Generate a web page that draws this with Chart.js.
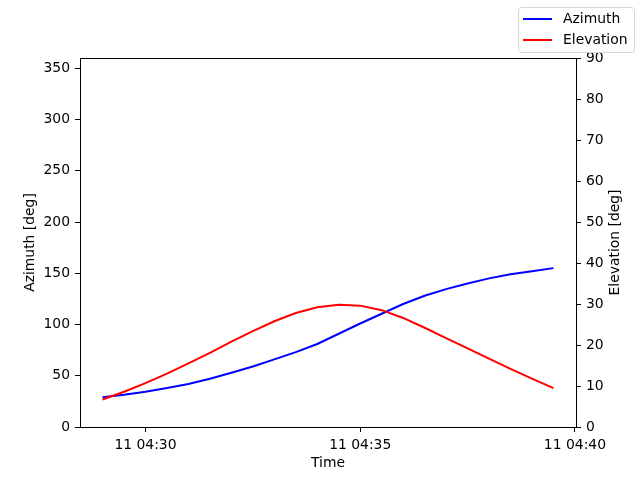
<!DOCTYPE html>
<html>
<head>
<meta charset="utf-8">
<script src="https://cdn.jsdelivr.net/npm/chart.js@4/dist/chart.umd.min.js"></script>
<style>
  html, body { margin: 0; padding: 0; background: #fff; }
  #wrap { width: 640px; height: 480px; }
</style>
</head>
<body>
<div id="wrap"><canvas id="passChart" width="640" height="480"></canvas></div>
<script>
// sample times (day 11), every 30 s
const times = ['04:29:00', '04:29:30', '04:30:00', '04:30:30', '04:31:00', '04:31:30',
    '04:32:00', '04:32:30', '04:33:00', '04:33:30', '04:34:00', '04:34:30',
    '04:35:00', '04:35:30', '04:36:00', '04:36:30', '04:37:00', '04:37:30',
    '04:38:00', '04:38:30', '04:39:00', '04:39:30'];
const azimuth = [29, 31.5, 34.5, 38, 42, 47, 53, 59, 66, 73, 81, 91,
    101, 110.5, 120, 128, 134.5, 140, 145, 149, 152, 155];
const elevation = [6.7, 8.6, 10.7, 13.0, 15.5, 18.1, 20.8, 23.4, 25.8, 27.8, 29.2, 29.8,
    29.6, 28.5, 26.6, 24.2, 21.7, 19.2, 16.7, 14.2, 11.8, 9.5];

const timeTicks = ['04:30:00', '04:35:00', '04:40:00'];
const timeTickLabels = ['11 04:30', '11 04:35', '11 04:40'];
const azTicks = [0, 50, 100, 150, 200, 250, 300, 350];
const elTicks = [0, 10, 20, 30, 40, 50, 60, 70, 80, 90];

// minutes after 04:00
function toMin(s) {
    const p = s.split(':').map(Number);
    return (p[0] - 4) * 60 + p[1] + p[2] / 60;
}

const xs = times.map(toMin);
const xTickVals = timeTicks.map(toMin);
const span = xs[xs.length - 1] - xs[0];

const font = { family: 'DejaVu Sans', size: 13.9 };

const frameAndLegend = {
    id: 'frameAndLegend',
    afterDraw(chart) {
        const { ctx, chartArea: a } = chart;
        ctx.save();
        // top spine
        ctx.strokeStyle = '#000';
        ctx.lineWidth = 1;
        ctx.beginPath();
        ctx.moveTo(a.left, a.top + 0.5);
        ctx.lineTo(a.right, a.top + 0.5);
        ctx.stroke();

        ctx.font = '13.9px "DejaVu Sans"';
        ctx.fillStyle = '#000';

        // right axis title, reads bottom to top like matplotlib
        ctx.save();
        ctx.translate(615, (a.top + a.bottom) / 2);
        ctx.rotate(-Math.PI / 2);
        ctx.textAlign = 'center';
        ctx.textBaseline = 'middle';
        ctx.fillText('Elevation [deg]', 0, 0);
        ctx.restore();

        // legend box
        const bx = 518.5, by = 7.5, bw = 116, bh = 45, r = 3;
        ctx.fillStyle = 'rgba(255,255,255,0.8)';
        ctx.strokeStyle = '#d6d6d6';
        ctx.beginPath();
        ctx.roundRect(bx, by, bw, bh, r);
        ctx.fill();
        ctx.stroke();

        ctx.textBaseline = 'middle';
        ctx.textAlign = 'left';
        chart.data.datasets.forEach((ds, i) => {
            const y = 19 + i * 21;
            ctx.strokeStyle = ds.borderColor;
            ctx.lineWidth = 2;
            ctx.beginPath();
            ctx.moveTo(523, y);
            ctx.lineTo(552, y);
            ctx.stroke();
            ctx.fillStyle = '#000';
            ctx.fillText(ds.label, 563, y);
        });
        ctx.restore();
    }
};

const chart = new Chart(document.getElementById('passChart'), {
    type: 'line',
    data: {
        datasets: [
            {
                label: 'Azimuth',
                data: xs.map((x, i) => ({ x: x, y: azimuth[i] })),
                borderColor: 'blue',
                borderWidth: 2,
                pointRadius: 0,
                tension: 0,
                yAxisID: 'y',
                order: 2
            },
            {
                label: 'Elevation',
                data: xs.map((x, i) => ({ x: x, y: elevation[i] })),
                borderColor: 'red',
                borderWidth: 2,
                pointRadius: 0,
                tension: 0,
                yAxisID: 'y1',
                order: 1
            }
        ]
    },
    options: {
        responsive: false,
        animation: false,
        devicePixelRatio: 1,
        layout: { padding: { top: 58, left: 0, right: 0, bottom: 0 } },
        plugins: {
            legend: { display: false },
            tooltip: { enabled: false }
        },
        scales: {
            x: {
                type: 'linear',
                min: xs[0] - 0.05 * span,
                max: xs[xs.length - 1] + 0.05 * span,
                afterBuildTicks: axis => { axis.ticks = xTickVals.map(v => ({ value: v })); },
                afterFit: axis => { axis.height = 53; },
                ticks: {
                    color: '#000',
                    font: font,
                    padding: 5,
                    maxRotation: 0,
                    callback: function(value) {
                        const k = xTickVals.findIndex(v => Math.abs(v - value) < 1e-6);
                        return k >= 0 ? timeTickLabels[k] : '';
                    }
                },
                grid: { drawOnChartArea: false, drawTicks: true, tickLength: 5, color: '#000' },
                border: { display: true, color: '#000', width: 1 },
                title: { display: true, text: 'Time', color: '#000', font: font, padding: { top: 0, bottom: 8 } }
            },
            y: {
                position: 'left',
                min: 0,
                max: 360,
                afterBuildTicks: axis => { axis.ticks = azTicks.map(v => ({ value: v })); },
                afterFit: axis => { axis.width = 80; },
                ticks: { color: '#000', font: font, padding: 5 },
                grid: { drawOnChartArea: false, drawTicks: true, tickLength: 5, color: '#000' },
                border: { display: true, color: '#000', width: 1 },
                title: { display: true, text: 'Azimuth [deg]', color: '#000', font: font, padding: { top: 22, bottom: 0 } }
            },
            y1: {
                position: 'right',
                min: 0,
                max: 90,
                afterBuildTicks: axis => { axis.ticks = elTicks.map(v => ({ value: v })); },
                afterFit: axis => { axis.width = 64; },
                ticks: { color: '#000', font: font, padding: 5 },
                grid: { drawOnChartArea: false, drawTicks: true, tickLength: 5, color: '#000' },
                border: { display: true, color: '#000', width: 1 },
                title: { display: false }
            }
        }
    },
    plugins: [frameAndLegend]
});
</script>
</body>
</html>
